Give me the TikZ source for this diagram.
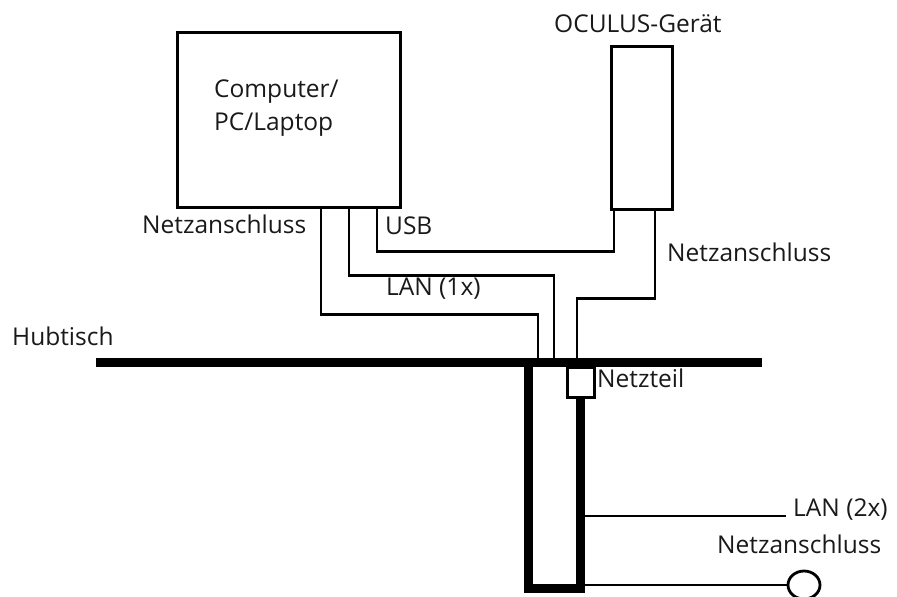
\documentclass[tikz,border=0pt]{standalone}
\usepackage{fontspec}
\setmainfont{Open Sans}
\usetikzlibrary{shapes.geometric}
\tikzset{
  wire/.style={line width=2.8pt,line join=miter},
  boxnode/.style={draw,line width=3pt,inner sep=0pt},
  txt/.style={font=\fontsize{24.5}{28}\selectfont,inner sep=0pt,anchor=west,text=black!90},
}
\begin{document}
\begin{tikzpicture}[x=1pt,y=-1pt]
\useasboundingbox (0,0) rectangle (897,597);
\node[boxnode,minimum width=223pt,minimum height=175pt] (computer) at (288.5,119.5) {};
\node[boxnode,minimum width=61.5pt,minimum height=163pt] (oculus) at (642,127.7) {};
\node[boxnode,minimum width=27pt,minimum height=30pt,fill=white] (netzteil) at (580.5,382) {};
\node[draw,ellipse,line width=2.8pt,inner sep=0pt,minimum width=32pt,minimum height=28pt] (dose) at (804,585) {};
\coordinate (steckerNetz) at (321,207);
\coordinate (steckerLan) at (349,207);
\coordinate (steckerUsb) at (377,207);
\coordinate (oculusUsb) at (614,209);
\coordinate (oculusNetz) at (655,209);
\coordinate (tischLinks) at (96,362);
\coordinate (tischRechts) at (762,362);
\coordinate (tischNetz) at (538,362);
\coordinate (tischLan) at (554,362);
\coordinate (tischOculus) at (577,362);
\coordinate (fussLinks) at (528,588);
\coordinate (fussRechts) at (580.5,588);
\coordinate (saeuleLan) at (581,516);
\coordinate (saeuleNetz) at (581,585);
\coordinate (lanEnde) at (786,516);
\draw[wire] (steckerNetz) |- (321,314.3) -| (tischNetz);
\draw[wire] (steckerLan) |- (349,275.3) -| (tischLan);
\draw[wire] (steckerUsb) |- (377,251.7) -| (oculusUsb);
\draw[wire] (oculusNetz) |- (655,298.7) -| (tischOculus);
\draw[line width=9pt] (tischLinks) -- (tischRechts);
\draw[line width=9pt,line join=miter] (tischNetz -| fussLinks) -- (fussLinks) -- (fussRechts) -- (netzteil.south -| fussRechts);
\draw[wire] (saeuleLan) -- (lanEnde);
\draw[wire] (saeuleNetz) -- (dose.west);
\node[txt] (computerA) at (214,92) {Computer/};
\node[txt] (computerB) at (214,125) {PC/Laptop};
\node[txt] (oculusText) at (554,24) {OCULUS-Gerät};
\node[txt] (netzA) at (142,224) {Netzanschluss};
\node[txt] (usbText) at (385,226) {USB};
\node[txt] (lanA) at (386,289) {LAN (1x)};
\node[txt] (netzB) at (667,252) {Netzanschluss};
\node[txt] (hubText) at (12,336) {Hubtisch};
\node[txt] (netzteilText) at (597,378) {Netzteil};
\node[txt] (lanB) at (793,510) {LAN (2x)};
\node[txt] (netzC) at (717,544) {Netzanschluss};
\end{tikzpicture}
\end{document}
